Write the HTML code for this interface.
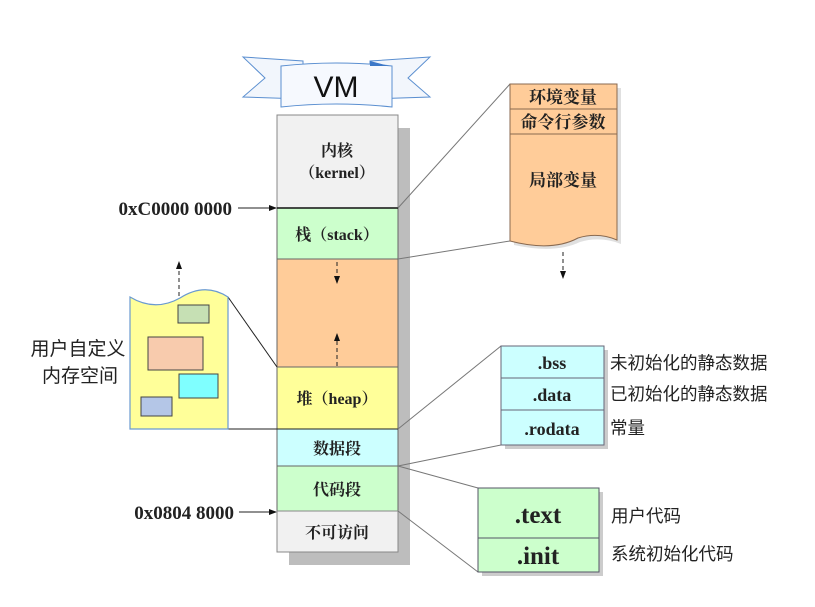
<!DOCTYPE html>
<html><head><meta charset="utf-8"><style>
html,body{margin:0;padding:0;background:#fff;}
svg{display:block;}
.b{font-family:"Liberation Serif","Noto Serif CJK SC",serif;font-weight:bold;fill:#222;}
.c{font-family:"Liberation Sans","Noto Sans CJK SC",sans-serif;fill:#222;}
</style></head><body>
<svg width="815" height="607" viewBox="0 0 815 607" xmlns="http://www.w3.org/2000/svg">
<defs>
<marker id="ah" markerWidth="8" markerHeight="8" refX="7" refY="4" orient="auto"><path d="M0,1 L8,4 L0,7 Z" fill="#111"/></marker>
</defs>
<!-- ribbon -->
<path d="M243,57 L303,61 L303,99 L243,97 L265,78 Z" fill="#f2f6fc" stroke="#5b8fd0" stroke-width="1"/>
<path d="M430,57 L370,61 L370,99 L430,97 L408,78 Z" fill="#f2f6fc" stroke="#5b8fd0" stroke-width="1"/>
<path d="M281,66 Q336,60 392,66 L392,107 Q336,101 281,107 Z" fill="#f6f9fe" stroke="#5b8fd0" stroke-width="1"/>
<path d="M370,61 L389,66 L370,66 Z" fill="#3c78c8"/>
<text x="336" y="97" text-anchor="middle" font-family="Liberation Sans,sans-serif" font-size="30" fill="#111">VM</text>

<!-- shadow -->
<rect x="289" y="128" width="121" height="437" fill="#bdbdbd"/>
<!-- main column -->
<rect x="277" y="115" width="121" height="93" fill="#f1f1f1" stroke="#888"/>
<rect x="277" y="208" width="121" height="51" fill="#ccffcc" stroke="#666"/>
<rect x="277" y="259" width="121" height="108" fill="#ffcc99" stroke="#666"/>
<rect x="277" y="367" width="121" height="62" fill="#ffff99" stroke="#666"/>
<rect x="277" y="429" width="121" height="37" fill="#ccffff" stroke="#666"/>
<rect x="277" y="466" width="121" height="45" fill="#ccffcc" stroke="#666"/>
<rect x="277" y="511" width="121" height="41" fill="#f1f1f1" stroke="#888"/>
<line x1="277" y1="208" x2="398" y2="208" stroke="#111" stroke-width="1.5"/>
<text x="337" y="156" text-anchor="middle" class="b" font-size="16" font-weight="normal">内核</text>
<text x="337" y="178" text-anchor="middle" class="b" font-size="16">（kernel）</text>
<text x="337" y="240" text-anchor="middle" class="b" font-size="16">栈（stack）</text>
<text x="337" y="404" text-anchor="middle" class="b" font-size="16">堆（heap）</text>
<text x="337" y="454" text-anchor="middle" class="b" font-size="16" font-weight="normal">数据段</text>
<text x="337" y="495" text-anchor="middle" class="b" font-size="16" font-weight="normal">代码段</text>
<text x="337" y="538" text-anchor="middle" class="b" font-size="16" font-weight="normal">不可访问</text>
<line x1="337" y1="262" x2="337" y2="283" stroke="#222" stroke-dasharray="4,3" marker-end="url(#ah)"/>
<line x1="337" y1="366" x2="337" y2="334" stroke="#222" stroke-dasharray="4,3" marker-end="url(#ah)"/>

<!-- address labels -->
<text x="232" y="215" text-anchor="end" class="b" font-size="19">0xC0000 0000</text>
<line x1="238" y1="208" x2="276" y2="208" stroke="#222" marker-end="url(#ah)"/>
<text x="234" y="519" text-anchor="end" class="b" font-size="19">0x0804 8000</text>
<line x1="239" y1="512" x2="276" y2="512" stroke="#222" marker-end="url(#ah)"/>

<!-- stack detail -->
<path d="M398,208 L510,84" stroke="#777" fill="none"/>
<path d="M398,259 L510,241" stroke="#777" fill="none"/>
<path d="M514,88 L621,88 L621,244 Q600,236 580,242 Q555,254 514,245 Z" fill="#ccc" opacity="0.6"/>
<path d="M510,84 L617,84 L617,240 Q598,232 578,238 Q552,252 510,241 Z" fill="#ffcc99" stroke="#8a6a50"/>
<line x1="510" y1="109" x2="617" y2="109" stroke="#8a6a50"/>
<line x1="510" y1="134" x2="617" y2="134" stroke="#8a6a50"/>
<text x="563" y="103" text-anchor="middle" class="b" font-size="17" font-weight="normal">环境变量</text>
<text x="563" y="128" text-anchor="middle" class="b" font-size="17" font-weight="normal">命令行参数</text>
<text x="563" y="186" text-anchor="middle" class="b" font-size="17" font-weight="normal">局部变量</text>
<line x1="563" y1="252" x2="563" y2="278" stroke="#222" stroke-dasharray="4,3" marker-end="url(#ah)"/>

<!-- heap detail -->
<line x1="228" y1="297" x2="277" y2="367" stroke="#222"/>
<line x1="228" y1="429" x2="398" y2="429" stroke="#222"/>
<path d="M130,297 Q155,312 180,298 Q205,282 228,297 L228,429 L130,429 Z" fill="#ffff99" stroke="#6a9ad0" stroke-width="1.2"/>
<rect x="178" y="305" width="31" height="18" fill="#c6e0b4" stroke="#444"/>
<rect x="148" y="337" width="55" height="33" fill="#f8cbad" stroke="#444"/>
<rect x="179" y="374" width="39" height="24" fill="#7fffff" stroke="#444"/>
<rect x="141" y="397" width="31" height="19" fill="#b4c6e7" stroke="#444"/>
<line x1="179" y1="296" x2="179" y2="262" stroke="#222" stroke-dasharray="4,3" marker-end="url(#ah)"/>
<text x="78" y="355" text-anchor="middle" class="c" font-size="19">用户自定义</text>
<text x="80" y="382" text-anchor="middle" class="c" font-size="19">内存空间</text>

<!-- data detail -->
<line x1="398" y1="429" x2="501" y2="346" stroke="#777"/>
<line x1="398" y1="466" x2="501" y2="445" stroke="#777"/>
<rect x="505" y="350" width="103" height="99" fill="#ccc"/>
<rect x="501" y="346" width="103" height="99" fill="#ccffff" stroke="#667"/>
<line x1="501" y1="378" x2="604" y2="378" stroke="#667"/>
<line x1="501" y1="410" x2="604" y2="410" stroke="#667"/>
<text x="552" y="369" text-anchor="middle" class="b" font-size="18">.bss</text>
<text x="552" y="401" text-anchor="middle" class="b" font-size="18">.data</text>
<text x="552" y="435" text-anchor="middle" class="b" font-size="18">.rodata</text>
<text x="610" y="369" class="c" font-size="17.5">未初始化的静态数据</text>
<text x="610" y="400" class="c" font-size="17.5">已初始化的静态数据</text>
<text x="610" y="434" class="c" font-size="17.5">常量</text>

<!-- text detail -->
<line x1="398" y1="466" x2="478" y2="488" stroke="#777"/>
<line x1="398" y1="511" x2="478" y2="572" stroke="#777"/>
<rect x="482" y="492" width="121" height="84" fill="#ccc"/>
<rect x="478" y="488" width="121" height="84" fill="#ccffcc" stroke="#556"/>
<line x1="478" y1="538" x2="599" y2="538" stroke="#556"/>
<text x="538" y="523" text-anchor="middle" class="b" font-size="25">.text</text>
<text x="538" y="564" text-anchor="middle" class="b" font-size="25">.init</text>
<text x="611" y="522" class="c" font-size="17.5">用户代码</text>
<text x="611" y="560" class="c" font-size="17.5">系统初始化代码</text>
</svg>
</body></html>
